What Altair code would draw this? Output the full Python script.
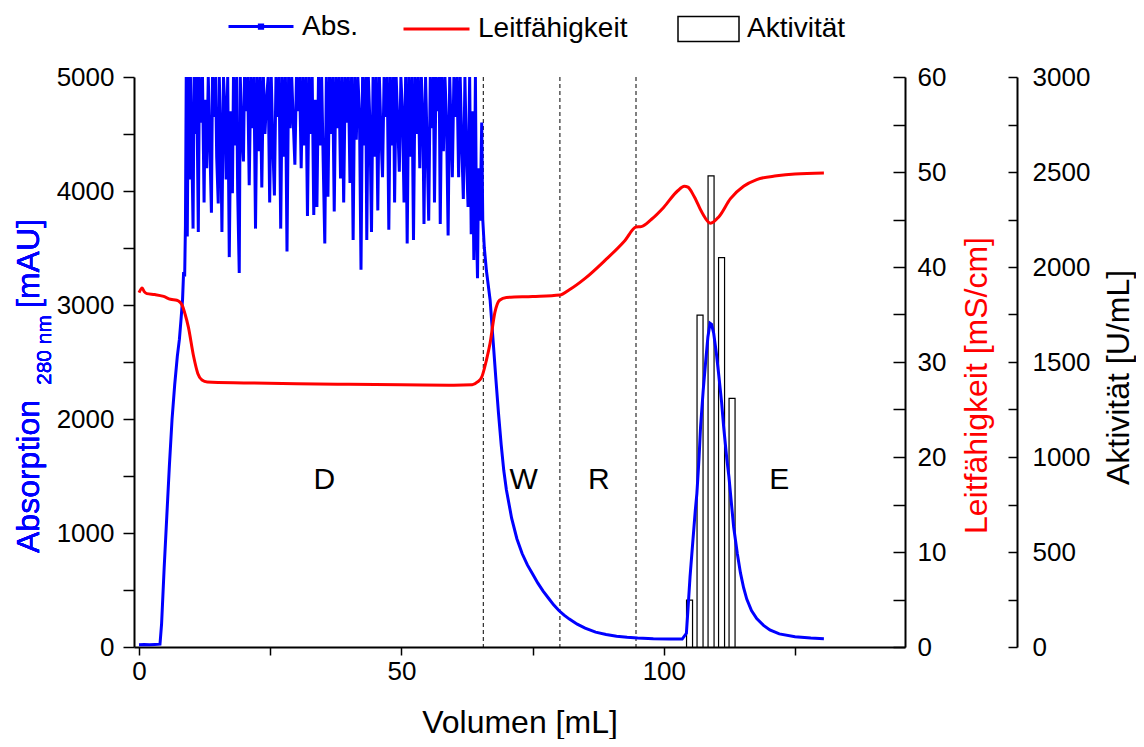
import altair as alt
import pandas as pd

# ---------------- data ----------------
abs_x = [0.0, 1.0, 2.0, 3.0, 4.0, 4.3, 4.8, 5.3, 5.8, 6.3, 6.8, 7.3, 7.7, 8.0, 8.3, 8.5, 8.7, 8.85,
         9.0, 9.2, 9.4, 9.6, 9.8, 10.1, 10.3, 10.5, 10.8, 11.0, 11.3, 11.5, 11.8, 12.1, 12.4, 12.6, 12.9,
         13.2, 13.5, 13.8, 14.0, 14.3, 14.6, 14.8, 15.1, 15.3, 15.6, 15.8, 16.1, 16.4, 16.6, 16.9, 17.2,
         17.5, 17.8, 18.0, 18.3, 18.6, 18.8, 19.1, 19.3, 19.6, 19.9, 20.1, 20.4, 20.7, 21.0, 21.3, 21.6,
         21.9, 22.2, 22.5, 22.8, 23.1, 23.4, 23.7, 24.0, 24.3, 24.6, 24.9, 25.2, 25.5, 25.8, 26.1, 26.4,
         26.7, 27.0, 27.3, 27.6, 27.9, 28.2, 28.5, 28.8, 29.1, 29.4, 29.7, 30.0, 30.3, 30.6, 30.9, 31.2,
         31.5, 31.8, 32.1, 32.4, 32.7, 33.0, 33.3, 33.6, 33.9, 34.2, 34.5, 34.8, 35.1, 35.4, 35.7, 36.0,
         36.3, 36.6, 36.9, 37.2, 37.5, 37.8, 38.1, 38.4, 38.7, 39.0, 39.3, 39.6, 39.9, 40.2, 40.5, 40.8,
         41.1, 41.4, 41.7, 42.0, 42.3, 42.6, 42.9, 43.2, 43.4, 43.7, 44.0, 44.3, 44.6, 44.9, 45.2, 45.5,
         45.8, 46.1, 46.4, 46.7, 47.0, 47.3, 47.6, 47.9, 48.2, 48.5, 48.7, 49.0, 49.3, 49.6, 49.9, 50.2,
         50.5, 50.8, 51.1, 51.4, 51.7, 52.0, 52.3, 52.6, 52.9, 53.2, 53.5, 53.8, 54.1, 54.3, 54.6, 54.9,
         55.2, 55.5, 55.8, 56.1, 56.3, 56.6, 56.9, 57.2, 57.4, 57.7, 58.0, 58.3, 58.6, 58.9, 59.2, 59.5,
         59.7, 60.0, 60.3, 60.6, 60.9, 61.2, 61.5, 61.8, 62.1, 62.4, 62.7, 63.0, 63.3, 63.5, 63.8, 64.1,
         64.3, 64.5, 64.7, 65.0, 65.3, 65.5, 65.8, 66.2, 66.9, 67.5, 68.0, 68.5, 69.0, 69.5, 70.0, 71.0,
         72.0, 73.0, 74.0, 75.0, 76.0, 77.0, 78.0, 79.0, 80.0, 81.0, 82.0, 83.5, 85.0, 87.0, 89.0, 91.0,
         93.0, 95.0, 98.0, 101.0, 103.5, 104.3, 104.6, 105.0, 105.5, 106.0, 106.3, 106.7, 107.0, 107.5,
         108.0, 108.4, 108.8, 109.1, 109.5, 110.0, 110.5, 111.0, 111.4, 112.0, 112.4, 113.0, 113.3, 114.0,
         114.6, 115.2, 115.8, 116.7, 117.7, 119.0, 120.2, 122.0, 125.0, 128.0, 130.5]
abs_y = [20, 22, 20, 22, 25, 200, 700, 1150, 1600, 2000, 2300, 2550, 2700, 2870, 3050, 3290, 3250, 3700,
         5000, 3600, 5000, 4100, 5000, 4300, 3670, 5000, 4500, 5000, 3640, 5000, 4600, 5000, 3900, 4800, 4200,
         5000, 4400, 3810, 5000, 4650, 5000, 4300, 3890, 5000, 4400, 3640, 5000, 4700, 4100, 5000, 3420,
         4700, 3980, 5000, 4400, 5000, 4000, 3280, 5000, 4500, 4260, 5000, 4700, 5000, 4050, 5000, 4550,
         5000, 3670, 5000, 4350, 5000, 4030, 5000, 4500, 4800, 5000, 3900, 5000, 4400, 3960, 5000, 4650,
         5000, 3670, 5000, 4300, 5000, 3470, 5000, 4550, 5000, 4600, 4230, 5000, 4700, 5000, 4200, 5000,
         4400, 5000, 3780, 5000, 4500, 5000, 3790, 4800, 3860, 5000, 4400, 5000, 4250, 3540, 5000, 3950,
         5000, 4500, 5000, 3820, 5000, 4550, 5000, 4110, 5000, 3900, 5000, 4600, 5000, 4070, 5000, 3570,
         5000, 4450, 5000, 4700, 3310, 5000, 4400, 5000, 3570, 5000, 4600, 3640, 5000, 4300, 5000, 3830,
         5000, 4500, 4120, 5000, 4650, 5000, 3660, 5000, 4400, 5000, 3900, 5000, 4600, 4170, 5000, 4700,
         3900, 5000, 3540, 5000, 4300, 5000, 3570, 5000, 4500, 5000, 4200, 5000, 4600, 3710, 5000, 4400,
         3740, 5000, 4550, 5000, 3900, 5000, 4700, 5000, 3710, 5000, 4350, 5000, 4600, 3610, 5000, 4500,
         4120, 5000, 4650, 5000, 4120, 5000, 4400, 3930, 5000, 4300, 3860, 5000, 3620, 4700, 3395, 5000,
         3700, 3235, 4200, 3740, 4600, 3750, 3500, 3300, 3044, 2667, 2350, 2050, 1780, 1550, 1380, 1130,
         950, 820, 720, 640, 560, 490, 430, 370, 320, 280, 245, 200, 165, 130, 110, 95,
         85, 78, 72, 70, 70, 120, 330, 620, 912, 1200, 1348, 1650, 1932, 2250,
         2518, 2720, 2840, 2830, 2752, 2580, 2371, 2150, 1932, 1650, 1494, 1200, 1055, 820,
         650, 520, 420, 320, 250, 190, 150, 115, 90, 78, 72]

cond_x = [0.0, 0.6, 1.0, 1.5, 3.0, 4.7, 6.0, 7.2, 7.8, 8.2, 8.8, 9.4, 10.4, 11.2, 12.0, 13.0, 20.0, 30.0,
          40.0, 50.0, 60.0, 63.5, 64.5, 65.3, 66.2, 66.9, 67.8, 68.7, 70.0, 75.0, 80.2, 82.0, 85.0, 88.8,
          92.6, 94.7, 95.7, 97.6, 100.0, 102.6, 103.9, 104.6, 105.8, 107.3, 108.9, 110.5, 112.7, 115.2,
          117.7, 121.5, 125.0, 130.5]
cond_y = [37.3, 37.8, 37.4, 37.2, 37.1, 36.9, 36.6, 36.5, 36.3, 36.0, 35.0, 33.7, 30.6, 28.8, 28.1, 27.9,
          27.8, 27.7, 27.65, 27.6, 27.55, 27.6, 27.9, 28.4, 30.2, 32.0, 35.2, 36.5, 36.8, 36.9, 37.05, 37.6,
          38.8, 40.7, 42.8, 44.2, 44.25, 45.0, 46.3, 48.0, 48.5, 48.4, 47.4, 45.7, 44.6, 45.3, 47.2, 48.5,
          49.2, 49.6, 49.8, 49.9]

act_x = [104.9, 106.9, 109.0, 111.0, 113.0]
act_y = [247, 1747, 2480, 2049, 1309]

bound_x = [65.6, 80.2, 94.7]

phase_text = ["D", "W", "R", "E"]
phase_x = [35.3, 73.3, 87.6, 122.0]
phase_y = [1465, 1465, 1465, 1465]

x_ticks = [0, 25, 50, 75, 100, 125]
abs_ticks = list(range(0, 5001, 500))
cond_ticks = list(range(0, 61, 5))
act_ticks = list(range(0, 3001, 250))

# ---------------- styling ----------------
FONT = "Liberation Sans"
W, H = 771, 570
BLUE = "#0000ff"
RED = "#ff0000"

abs_df = pd.DataFrame({"v": abs_x, "a": abs_y, "s": "Abs."})
cond_df = pd.DataFrame({"v": cond_x, "c": cond_y, "s": "Leitfähigkeit"})
act_df = pd.DataFrame({"v": act_x, "u": act_y, "s": "Aktivität"})
bound_df = pd.DataFrame({"v": bound_x})
phase_df = pd.DataFrame({"v": phase_x, "a": phase_y, "t": phase_text})

xscale = alt.Scale(domain=[0, 145], nice=False, zero=False)
x_axis = alt.Axis(values=x_ticks, labelExpr="datum.value % 50 === 0 ? datum.label : ''",
                  labelFlush=False, tickSize=8, labelPadding=3, title="Volumen [mL]", titleFontSize=32,
                  titleBaseline="alphabetic", titleAlign="center", titleX=W / 2, titleY=85)

abs_scale = alt.Scale(domain=[0, 5000], nice=False)
abs_axis = alt.Axis(orient="left", values=abs_ticks, format="d",
                    labelExpr="datum.value % 1000 === 0 ? datum.label : ''",
                    tickSize=11, labelPadding=9, title=None)

abs_line = alt.Chart(abs_df).mark_line(strokeWidth=3, interpolate="linear").encode(
    x=alt.X("v:Q", scale=xscale, axis=x_axis),
    y=alt.Y("a:Q", scale=abs_scale, axis=abs_axis),
    color=alt.Color("s:N", scale=alt.Scale(domain=["Abs."], range=[BLUE]),
                    legend=alt.Legend(orient="none", legendX=93, legendY=-84.5, title=None,
                                      symbolType="M-1,0H1M-0.05,-0.05H0.05V0.05H-0.05Z",
                                      symbolSize=4225, symbolStrokeWidth=3, padding=0,
                                      labelOffset=7, labelFontSize=28, labelFont=FONT,
                                      labelColor="black", labelLimit=0)),
)

rules = alt.Chart(bound_df).mark_rule(color="black", strokeWidth=1, strokeDash=[4, 3]).encode(
    x=alt.X("v:Q", scale=xscale)
)

phases = alt.Chart(phase_df).mark_text(fontSize=30, font=FONT, color="black", baseline="middle").encode(
    x=alt.X("v:Q", scale=xscale),
    y=alt.Y("a:Q", scale=abs_scale),
    text="t:N",
)

t1 = alt.Chart(phase_df).mark_text(text="Absorption", angle=270, align="left", baseline="alphabetic",
                                   fontSize=32, font=FONT, color=BLUE).encode(
    x=alt.value(-95), y=alt.value(476))
t2 = alt.Chart(phase_df).mark_text(text="280 nm", angle=270, align="left", baseline="alphabetic",
                                   fontSize=21, font=FONT, color=BLUE).encode(
    x=alt.value(-83), y=alt.value(308))
t3 = alt.Chart(phase_df).mark_text(text="[mAU]", angle=270, align="left", baseline="alphabetic",
                                   fontSize=32, font=FONT, color=BLUE).encode(
    x=alt.value(-95), y=alt.value(231))

abs_group = alt.layer(rules, abs_line, phases, t1, t2, t3)

cond_line = alt.Chart(cond_df).mark_line(strokeWidth=3, interpolate="monotone").encode(
    x=alt.X("v:Q", scale=xscale),
    y=alt.Y("c:Q", scale=alt.Scale(domain=[0, 60], nice=False),
            axis=alt.Axis(orient="left", offset=-W, values=cond_ticks,
                          labelExpr="datum.value % 10 === 0 ? datum.label : ''",
                          tickSize=12, labelAlign="left", labelPadding=-24,
                          title="Leitfähigkeit [mS/cm]", titleColor=RED, titleFontSize=32,
                          titleAngle=270, titleAlign="center", titleBaseline="alphabetic",
                          titleX=81, titleY=308)),
    color=alt.Color("s:N", scale=alt.Scale(domain=["Leitfähigkeit"], range=[RED]),
                    legend=alt.Legend(orient="none", legendX=268, legendY=-82.5, title=None,
                                      symbolType="M-1,0H1", symbolSize=4356, symbolStrokeWidth=3,
                                      padding=0, labelOffset=7, labelFontSize=28, labelFont=FONT,
                                      labelColor="black", labelLimit=0)),
)

bars = alt.Chart(act_df).mark_bar(size=6, stroke="black", strokeWidth=1.2).encode(
    x=alt.X("v:Q", scale=xscale),
    y=alt.Y("u:Q", scale=alt.Scale(domain=[0, 3000], nice=False),
            axis=alt.Axis(orient="left", offset=-883, values=act_ticks, format="d",
                          labelExpr="datum.value % 500 === 0 ? datum.label : ''",
                          tickSize=9, labelAlign="left", labelPadding=-24,
                          title="Aktivität [U/mL]", titleColor="black", titleFontSize=32,
                          titleAngle=270, titleAlign="center", titleBaseline="alphabetic",
                          titleX=111, titleY=300)),
    fill=alt.Fill("s:N", scale=alt.Scale(domain=["Aktivität"], range=["white"]),
                  legend=alt.Legend(orient="none", legendX=543, legendY=-79.5, title=None,
                                    symbolType="M-1,-0.41H1V0.41H-1Z", symbolSize=3721,
                                    symbolStrokeColor="black", symbolStrokeWidth=1.5,
                                    symbolFillColor="white", padding=0, labelOffset=7,
                                    labelFontSize=28, labelFont=FONT, labelColor="black",
                                    labelLimit=0)),
)

chart = alt.layer(bars, abs_group, cond_line).resolve_scale(
    y="independent", color="independent", fill="independent"
).properties(
    width=W, height=H,
    padding={"left": 126, "top": 69, "right": 231, "bottom": 92},
    autosize=alt.AutoSizeParams(type="none"),
).configure_view(stroke=None).configure_axis(
    grid=False, labelFont=FONT, titleFont=FONT, labelFontSize=26, labelColor="black",
    titleColor="black", titleFontWeight="normal", domainColor="black", domainWidth=2,
    tickColor="black", tickWidth=1.5,
)

chart.save("out.html", embed_options={"renderer": "svg", "actions": False})
